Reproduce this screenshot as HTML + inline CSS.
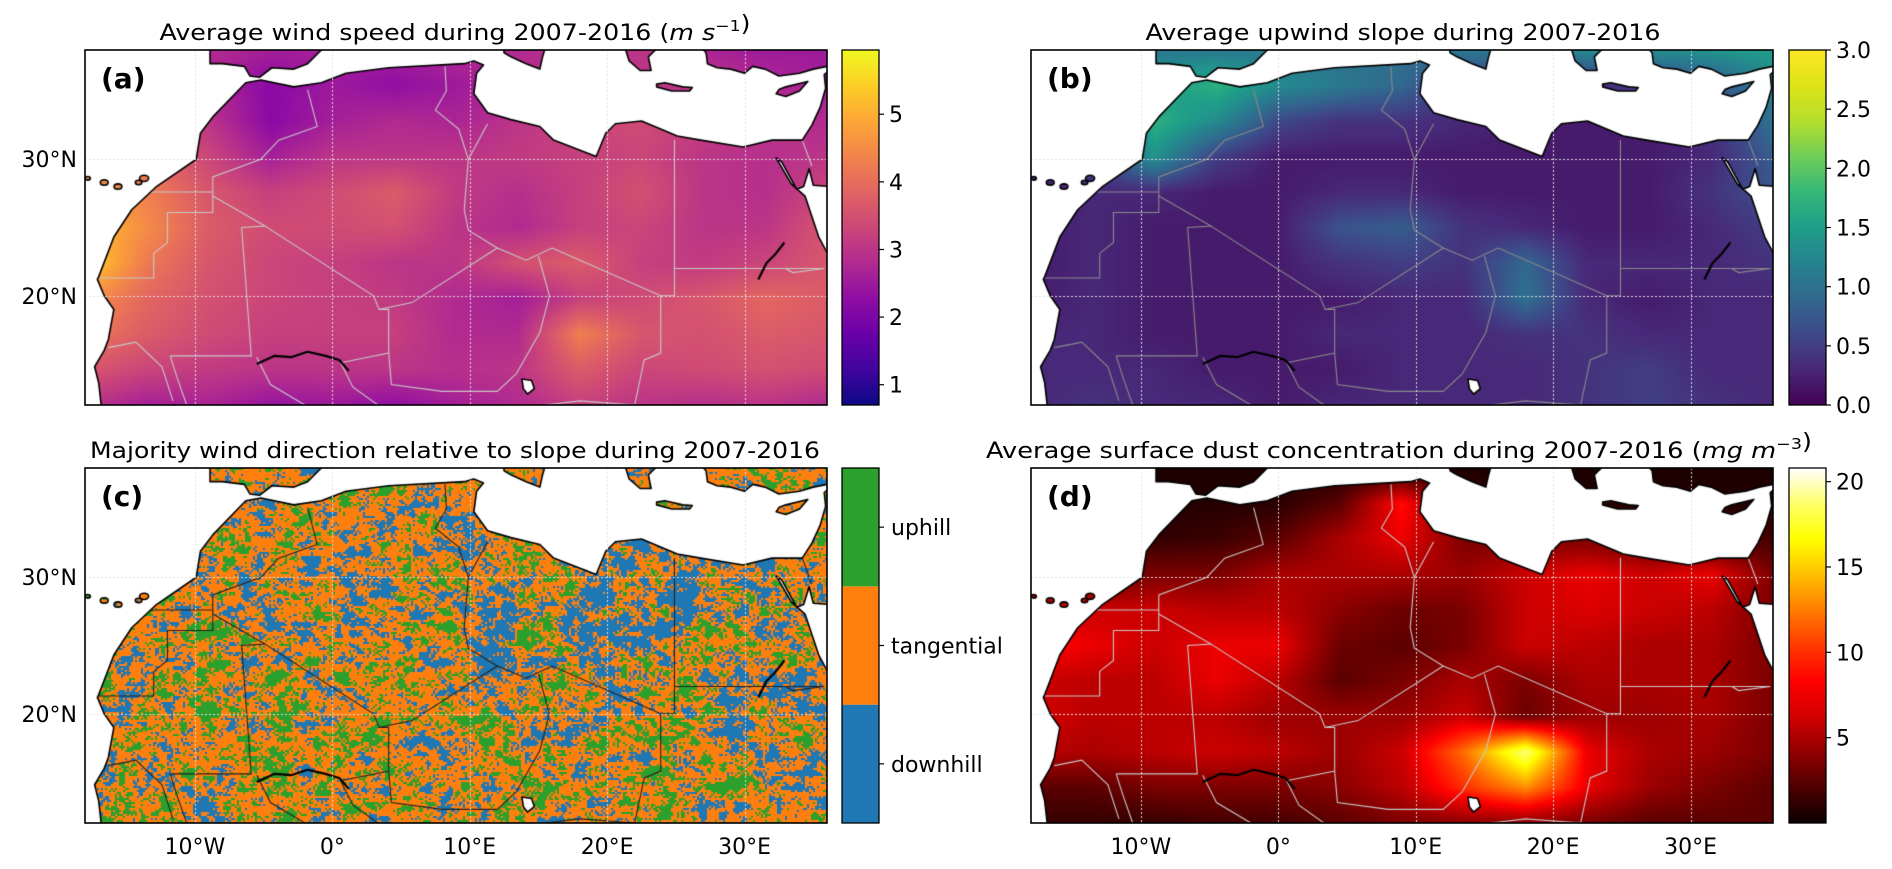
<!DOCTYPE html>
<html><head><meta charset="utf-8">
<style>
html,body{margin:0;padding:0;background:#fff;}
#wrap{position:relative;width:1892px;height:869px;overflow:hidden;font-family:"DejaVu Sans","Liberation Sans",sans-serif;}
canvas{position:absolute;}
svg{position:absolute;left:0;top:0;}
</style></head>
<body>
<div id="wrap">
<canvas id="mapA" width="742" height="355" style="left:85px;top:50px"></canvas>
<canvas id="mapB" width="742" height="355" style="left:1031px;top:50px"></canvas>
<canvas id="mapC" width="742" height="355" style="left:85px;top:468px"></canvas>
<canvas id="mapD" width="742" height="355" style="left:1031px;top:468px"></canvas>
<svg id="ov" width="1892" height="869"></svg>
</div>
<script>
// ---- grid definition (data) ----
const gridLons = [-18,-13.5,-9,-4.5,0,4.5,9,13.5,18,22.5,27,31.5,36];
const gridLats = [38,35.4,32.8,30.2,27.6,25,22.4,19.8,17.2,14.6,12];
const windSpeed = [
[2.8,2.8,2.8,2.6,2.6,2.6,2.8,2.8,3.0,3.0,2.7,2.5,2.5],
[3.0,3.0,2.8,2.2,2.5,2.3,2.5,2.8,3.0,3.0,3.0,2.8,2.6],
[3.2,3.2,3.0,2.2,2.6,2.8,2.7,3.0,3.3,3.4,3.2,3.0,2.8],
[4.2,4.0,3.3,2.6,3.0,3.0,3.0,3.1,3.2,3.3,3.0,2.9,3.0],
[4.6,4.3,3.6,3.2,3.4,3.7,3.1,2.9,3.2,3.5,3.0,2.9,3.3],
[5.3,4.5,3.7,3.4,3.4,3.5,3.0,2.8,3.2,3.3,3.0,3.0,3.6],
[5.5,4.2,3.6,3.3,3.2,3.0,3.0,3.5,3.7,3.2,3.1,3.3,3.6],
[4.6,3.9,3.5,3.3,3.2,3.1,2.8,2.6,3.2,3.4,3.6,3.9,3.7],
[4.2,3.7,3.4,3.2,3.2,3.2,2.8,2.8,4.3,3.6,3.5,3.7,3.6],
[3.6,3.3,3.1,3.0,3.0,3.0,2.9,3.0,3.7,3.3,3.4,3.5,3.4],
[3.0,2.6,2.7,2.4,2.5,2.3,2.6,2.8,3.2,3.0,2.9,3.0,2.8]];
const upwindSlope = [
[1.1,1.1,1.1,1.1,1.1,1.0,1.0,1.1,1.1,1.3,1.3,1.4,1.5],
[0.3,0.3,1.4,1.7,1.3,1.1,0.9,0.4,0.3,0.3,0.5,0.7,1.2],
[0.3,0.3,1.7,1.3,0.6,0.4,0.4,0.3,0.2,0.2,0.2,0.4,1.0],
[0.3,0.5,1.4,0.5,0.2,0.2,0.2,0.2,0.2,0.2,0.2,0.3,0.8],
[0.2,0.3,0.3,0.2,0.2,0.3,0.3,0.2,0.2,0.2,0.2,0.4,0.7],
[0.2,0.3,0.2,0.2,0.2,0.7,0.8,0.4,0.3,0.2,0.2,0.3,0.5],
[0.2,0.3,0.2,0.2,0.2,0.4,0.5,0.4,0.9,0.3,0.3,0.3,0.4],
[0.2,0.3,0.2,0.2,0.2,0.2,0.3,0.3,1.0,0.3,0.2,0.3,0.3],
[0.3,0.3,0.2,0.2,0.2,0.3,0.3,0.3,0.4,0.4,0.3,0.3,0.3],
[0.3,0.3,0.3,0.2,0.2,0.2,0.3,0.3,0.3,0.4,0.5,0.3,0.3],
[0.3,0.4,0.3,0.3,0.2,0.3,0.3,0.3,0.3,0.4,0.5,0.4,0.3]];
const downhillFrac = [
[.18,.18,.18,.18,.18,.18,.18,.18,.18,.18,.18,.18,.18],
[.18,.18,.18,.18,.16,.16,.18,.18,.18,.18,.18,.18,.18],
[.18,.18,.18,.18,.18,.24,.22,.22,.24,.26,.24,.22,.18],
[.18,.18,.18,.18,.22,.30,.28,.34,.40,.46,.40,.36,.24],
[.18,.18,.18,.18,.22,.30,.38,.44,.44,.55,.40,.38,.26],
[.16,.18,.22,.22,.22,.26,.32,.40,.36,.46,.32,.32,.26],
[.16,.18,.22,.26,.22,.20,.20,.24,.26,.30,.26,.26,.26],
[.16,.18,.24,.26,.20,.20,.20,.22,.26,.26,.26,.26,.26],
[.16,.18,.18,.18,.18,.18,.18,.24,.22,.26,.26,.26,.26],
[.16,.18,.18,.18,.18,.18,.18,.24,.24,.22,.24,.24,.24],
[.18,.18,.18,.18,.18,.18,.18,.18,.18,.18,.18,.18,.18]];
const uphillFrac = [
[.18,.18,.18,.18,.18,.18,.18,.18,.18,.18,.18,.18,.18],
[.18,.18,.22,.22,.18,.18,.18,.18,.18,.18,.18,.18,.18],
[.18,.18,.22,.22,.18,.18,.18,.16,.14,.14,.14,.16,.18],
[.22,.22,.22,.20,.18,.16,.16,.14,.12,.10,.12,.14,.18],
[.22,.22,.22,.20,.18,.16,.14,.12,.12,.10,.14,.16,.18],
[.22,.22,.22,.20,.18,.18,.16,.14,.14,.14,.16,.16,.18],
[.22,.22,.22,.20,.20,.18,.18,.18,.18,.18,.18,.18,.18],
[.22,.22,.22,.22,.20,.20,.20,.18,.18,.18,.18,.18,.18],
[.22,.22,.22,.22,.22,.20,.20,.18,.18,.18,.18,.18,.18],
[.22,.22,.22,.22,.22,.20,.20,.18,.20,.20,.18,.18,.18],
[.22,.22,.22,.22,.22,.20,.20,.20,.20,.20,.18,.18,.18]];
const dustConc = [
[0.5,0.5,0.5,0.5,0.5,0.5,0.5,0.5,0.5,0.5,0.5,0.5,0.5],
[0.5,0.5,0.8,0.8,1,2.5,8,1.8,0.8,0.8,0.8,0.8,0.8],
[0.8,0.8,1.2,1.5,2.5,5,7,3.5,3.5,3.5,2.5,1.8,1.8],
[1.8,2.5,3.5,3.5,5,5,5,4.5,6,7,6,7,3.5],
[6,6,6,5.5,5.5,4,3,3.5,6,6.5,6,5.5,3.5],
[8,7,6,7,7,3,2.5,3.5,6,5.5,5,5,3.5],
[6,5.5,5.5,7,5.5,2.5,3.5,5,3.5,5,5,5,3.5],
[6.5,5.5,5.5,5.5,4.5,4.5,4.5,6,3,4.5,4.5,5,3.5],
[5.5,5,5.5,6,5.5,4.5,6,11,18,7,5,4.5,3.5],
[2.5,2.5,3.5,3.5,3.5,4,5.5,9,12,7,4.5,3.5,2.5],
[1.3,1.3,1.3,1.8,1.8,2.5,3.5,4,4,3.5,2.5,2.5,2.5]];
const lonTicks = [-10,0,10,20,30];
const lonTickLabels = ["10°W","0°","10°E","20°E","30°E"];
const latTicks = [30,20];
const latTickLabels = ["30°N","20°N"];
const windTicks = [1,2,3,4,5];
const slopeTicks = [0,0.5,1,1.5,2,2.5,3];
const slopeTickLabels = ["0.0","0.5","1.0","1.5","2.0","2.5","3.0"];
const dustTicks = [5,10,15,20];
const dirCategories = ["downhill","tangential","uphill"];

// ---- geography (coast / borders in lon,lat) ----
const mainland = [[-16.6,10],[-17,13.6],[-17.3,14.8],[-16.6,16],[-16.3,16.8],[-15.9,19],[-16.6,20],[-17.1,21.2],[-17,21.4],[-15.9,24.3],[-14.6,26.3],[-12.8,28],[-9.9,30],[-9.6,31.9],[-8.7,33.1],[-6.3,35.6],[-5.2,35.8],[-2.8,35.3],[-0.8,35.6],[1,36.3],[4.1,36.7],[9.6,37],[10.3,37.2],[11,36.9],[10.5,36.3],[10.3,34.8],[11.3,33.4],[13,32.9],[15.1,32.4],[16.1,31.4],[19.2,30.2],[19.9,31.9],[20.6,32.6],[22.5,32.8],[25.1,31.7],[26.8,31.4],[29.9,30.9],[32,31.4],[34.2,31.4],[34.9,32.5],[35.5,33.8],[35.9,35.2],[35.8,36.2],[36.5,36.8],[37,36.8],[37,10]];
const iberia = [[-9.5,39],[-8.9,38],[-8.9,37],[-8,37],[-6.4,36.8],[-6,36.1],[-5.3,36],[-4.4,36.7],[-2.8,36.6],[-1.8,37],[-0.8,38],[-0.5,39]];
const sicily = [[12.4,38.5],[12.5,37.8],[13,37.5],[14.1,37],[15.1,36.6],[15.3,37.5],[15.6,38.5]];
const greece = [[21.2,38.5],[21.6,37.2],[22.4,36.5],[23.2,36.5],[23,37.5],[24,38.5]];
const turkey = [[26.6,38.5],[27.2,37.8],[27.3,37],[28,36.7],[29,36.6],[30,36.3],[30.6,36.8],[31.5,36.6],[32.5,36.1],[34,36.3],[35,36.6],[36,36.8],[37,36.8],[37,38.5]];
const crete = [[23.6,35.5],[24.2,35.6],[25.5,35.3],[26.2,35.25],[26,35],[24.7,35],[23.6,35.3]];
const cyprus = [[32.3,34.8],[32.5,35.1],[33,35.3],[34.6,35.7],[34,35],[33,34.6]];
const canaries = [[-13.7,28.6,0.35],[-14.1,28.3,0.25],[-15.6,28,0.3],[-16.6,28.3,0.3],[-17.8,28.6,0.2]];
const redSea = [[32.3,30.1],[33.4,28.2],[34.4,27.3],[35.4,24.3],[36.2,22.8],[36.2,28],[35,28.1],[34.7,29.3],[34.3,28],[33.8,27.8],[32.7,29.8]];
const lakeChad = [[13.8,13.9],[14.5,13.8],[14.7,13.2],[14.2,12.8],[13.9,13.2]];
const borders = [
[[-1.8,35.1],[-1.1,32.4],[-3.9,31.4],[-5.2,30],[-8.7,28.7],[-8.7,27.6],[-13.2,27.6]],
[[-8.7,27.6],[-8.7,26.1],[-12,26.1],[-12,23.9],[-13,23.1],[-13,21.3],[-17,21.3]],
[[-8.7,27.3],[-4.9,25.1],[-6.6,25.0],[-5.9,15.6],[-11.8,15.6]],
[[-4.9,25.1],[3,20],[3.4,19],[5.8,19.5],[12,23.5]],
[[3.4,19],[4.1,19],[4.1,15.8],[0.6,15.1]],
[[8.2,36.8],[8.3,35],[7.5,33.6],[9.2,32.2],[9.9,30],[9.6,26.3],[9.9,24.8],[12,23.5],[14.1,22.6],[16,23.5],[23.9,20],[24.9,20],[24.9,22],[24.9,31.4]],
[[11.3,32.6],[9.9,30]],
[[24.9,22],[35.8,22]],
[[15,22.9],[15.8,20],[15.1,17.3],[13.4,14.3]],
[[23.9,20],[23.9,15.8],[22.7,15.3],[22,12]],
[[-16.3,16.2],[-14.3,16.6],[-12.4,14.8],[-11.6,12.3]],
[[-11.8,15.6],[-11.3,14],[-10.6,12]],
[[0.6,15.1],[1.5,13.3],[3.6,11.8]],
[[-5.5,15.5],[-4.5,13.5],[-2,12]],
[[4.1,15.8],[4.3,13.5],[8,13],[12,13],[13.4,14.3]],
[[22,12],[18,12.3],[15.5,12]],
[[34.2,31.4],[34.9,29.5]],
[[35.8,22],[33.5,21.7],[33,22]]];
const rivers = [[[-5.5,15],[-4.2,15.6],[-3,15.5],[-1.8,15.9],[-0.5,15.6],[0.5,15.3],[1.2,14.5]],[[31,21.2],[31.6,22.4],[32.2,23],[32.9,23.9]]];

// ---- layout ----
const W=742,H=355;
const panels = {A:{x:85,y:50},B:{x:1031,y:50},C:{x:85,y:468},D:{x:1031,y:468}};
function px(lon){return (lon+18)*W/54;}
function py(lat){return (38-lat)*H/26;}

function sample(g,lon,lat){
  let fi=(lon-gridLons[0])/4.5, fj=(gridLats[0]-lat)/2.6;
  fi=Math.max(0,Math.min(12,fi)); fj=Math.max(0,Math.min(10,fj));
  const i=Math.min(11,Math.floor(fi)), j=Math.min(9,Math.floor(fj));
  const u=fi-i,v=fj-j;
  return g[j][i]*(1-u)*(1-v)+g[j][i+1]*u*(1-v)+g[j+1][i]*(1-u)*v+g[j+1][i+1]*u*v;
}
function hex(h){return [parseInt(h.slice(1,3),16),parseInt(h.slice(3,5),16),parseInt(h.slice(5,7),16)];}
const plasma=["#0d0887","#41049d","#6a00a8","#8f0da4","#b12a90","#cc4778","#e16462","#f2844b","#fca636","#fcce25","#f0f921"].map(hex);
const viridis=["#440154","#482878","#3e4989","#31688e","#26828e","#1f9e89","#35b779","#6ece58","#b5de2b","#dde318","#fde725"].map(hex);
function cmapEven(stops,t){t=Math.max(0,Math.min(1,t));const f=t*(stops.length-1);const i=Math.min(stops.length-2,Math.floor(f));const u=f-i;return stops[i].map((c,k)=>Math.round(c+(stops[i+1][k]-c)*u));}
function hot(t){t=Math.max(0,Math.min(1,t));const r=Math.min(1,0.0416+t/0.365*0.9584),g=Math.max(0,Math.min(1,(t-0.365)/0.381)),b=Math.max(0,(t-0.746)/0.254);return [Math.round(r*255),Math.round(g*255),Math.round(b*255)];}

// deterministic rank-normalised texture for the categorical map (rendering only)
function h2(i,j){let n=Math.imul(i|0,374761393)+Math.imul(j|0,668265263)|0;n=Math.imul(n^(n>>>13),1274126177);n=n^(n>>>16);return (n>>>0)/4294967296;}
function vnoise(x,y){const i=Math.floor(x),j=Math.floor(y),u=x-i,v=y-j;const s=u*u*(3-2*u),t=v*v*(3-2*v);
  return h2(i,j)*(1-s)*(1-t)+h2(i+1,j)*s*(1-t)+h2(i,j+1)*(1-s)*t+h2(i+1,j+1)*s*t;}
const TW=Math.ceil(W/2),TH=Math.ceil(H/2);
const texture=(function(){const n=TW*TH,vals=new Float32Array(n),idx=[];
  for(let j=0;j<TH;j++)for(let i=0;i<TW;i++){vals[j*TW+i]=0.4*vnoise(i/3.5,j/2.5)+0.4*vnoise(i/10+50,j/8+50)+0.2*h2(i+999,j+77);idx.push(j*TW+i);}
  idx.sort((a,b)=>vals[a]-vals[b]);const r=new Float32Array(n);idx.forEach((k,q)=>{r[k]=(q+0.5)/n;});return r;})();
const catCol={down:hex("#1f77b4"),tan:hex("#ff7f0e"),up:hex("#2ca02c")};

function poly(ctx,pts){ctx.moveTo(px(pts[0][0]),py(pts[0][1]));for(let k=1;k<pts.length;k++)ctx.lineTo(px(pts[k][0]),py(pts[k][1]));ctx.closePath();}
function line(ctx,pts){ctx.moveTo(px(pts[0][0]),py(pts[0][1]));for(let k=1;k<pts.length;k++)ctx.lineTo(px(pts[k][0]),py(pts[k][1]));}

function drawMap(id,colorFn,borderColor,step){
  const c=document.getElementById(id),ctx=c.getContext('2d');
  const img=ctx.createImageData(W,H);
  for(let y=0;y<H;y+=step)for(let x=0;x<W;x+=step){
    const lon=-18+(x+step/2)*54/W, lat=38-(y+step/2)*26/H;
    const col=colorFn(lon,lat,x/step|0,y/step|0);
    for(let dy=0;dy<step&&y+dy<H;dy++)for(let dx=0;dx<step&&x+dx<W;dx++){
      const o=((y+dy)*W+x+dx)*4;img.data[o]=col[0];img.data[o+1]=col[1];img.data[o+2]=col[2];img.data[o+3]=255;}
  }
  ctx.putImageData(img,0,0);
  const lands=[mainland,iberia,sicily,greece,turkey,crete,cyprus];
  ctx.beginPath();ctx.rect(-5,-5,W+10,H+10);
  lands.forEach(p=>poly(ctx,p));
  canaries.forEach(cn=>{ctx.moveTo(px(cn[0])+cn[2]*13,py(cn[1]));ctx.ellipse(px(cn[0]),py(cn[1]),cn[2]*13,cn[2]*9,0,0,Math.PI*2);});
  ctx.fillStyle="#fff";ctx.fill('evenodd');
  ctx.beginPath();poly(ctx,redSea);poly(ctx,lakeChad);ctx.fill();
  ctx.strokeStyle=borderColor;ctx.lineWidth=1.1;
  borders.forEach(b=>{ctx.beginPath();line(ctx,b);ctx.stroke();});
  ctx.strokeStyle="#000";ctx.lineWidth=1.6;ctx.lineJoin="round";
  ctx.beginPath();lands.forEach(p=>poly(ctx,p));poly(ctx,redSea);poly(ctx,lakeChad);ctx.stroke();
  canaries.forEach(cn=>{ctx.beginPath();ctx.ellipse(px(cn[0]),py(cn[1]),cn[2]*13,cn[2]*9,0,0,Math.PI*2);ctx.stroke();});
  ctx.lineWidth=2.2;rivers.forEach(r=>{ctx.beginPath();line(ctx,r);ctx.stroke();});
  ctx.setLineDash([2,2]);ctx.strokeStyle="rgba(225,225,225,0.95)";ctx.lineWidth=1;
  lonTicks.forEach(l=>{ctx.beginPath();ctx.moveTo(Math.round(px(l))+0.5,0);ctx.lineTo(Math.round(px(l))+0.5,H);ctx.stroke();});
  latTicks.forEach(l=>{ctx.beginPath();ctx.moveTo(0,Math.round(py(l))+0.5);ctx.lineTo(W,Math.round(py(l))+0.5);ctx.stroke();});
  ctx.setLineDash([]);
}
drawMap('mapA',(lo,la)=>cmapEven(plasma,(sample(windSpeed,lo,la)-0.7)/5.25),"#c8c8c8",2);
drawMap('mapB',(lo,la)=>cmapEven(viridis,sample(upwindSlope,lo,la)/3),"#8a8a8a",2);
drawMap('mapC',(lo,la,i,j)=>{const fd=sample(downhillFrac,lo,la),fu=sample(uphillFrac,lo,la);const t=texture[Math.min(TH-1,j)*TW+Math.min(TW-1,i)];return t<fd?catCol.down:(t>1-fu?catCol.up:catCol.tan);},"#222",2);
drawMap('mapD',(lo,la)=>hot(sample(dustConc,lo,la)/20.8),"#c8c8c8",2);

// ---- SVG annotations ----
const NS="http://www.w3.org/2000/svg",svg=document.getElementById('ov');
function el(tag,attrs,parent){const e=document.createElementNS(NS,tag);for(const k in attrs)e.setAttribute(k,attrs[k]);(parent||svg).appendChild(e);return e;}
function txt(s,attrs){const e=el('text',Object.assign({'font-family':'DejaVu Sans, Liberation Sans, sans-serif','font-size':22,fill:'#000'},attrs));e.textContent=s;return e;}
const defs=el('defs',{});
function grad(id,colors){const g=el('linearGradient',{id:id,x1:0,y1:1,x2:0,y2:0},defs);colors.forEach((c,k)=>el('stop',{offset:k/(colors.length-1),'stop-color':c},g));}
grad('gPlasma',plasma.map(c=>`rgb(${c})`));
grad('gViridis',viridis.map(c=>`rgb(${c})`));
grad('gHot',[0,.1,.2,.3,.365,.45,.55,.65,.746,.85,1].map(t=>`rgb(${hot(t)})`));

const titles=[
 ['A',"title-wind-speed",455,591,[["Average wind speed during 2007-2016 (",""],["m s","italic"],["−1","sup"],[")",""]]],
 ['B',"title-upwind-slope",1403,515,[["Average upwind slope during 2007-2016",""]]],
 ['C',"title-wind-direction",455,730,[["Majority wind direction relative to slope during 2007-2016",""]]],
 ['D',"title-dust-concentration",1399,826,[["Average surface dust concentration during 2007-2016 (",""],["mg m","italic"],["−3","sup"],[")",""]]]];
titles.forEach(t=>{
  const p=panels[t[0]];
  const e=el('text',{x:t[2],y:p.y-10,'text-anchor':'middle','font-family':'DejaVu Sans, Liberation Sans, sans-serif','font-size':22,textLength:t[3],lengthAdjust:'spacingAndGlyphs'});
  
  
  t[4].forEach(s=>{const ts=el('tspan',{},e);if(s[1]==='italic')ts.setAttribute('font-style','italic');if(s[1]==='sup'){ts.setAttribute('font-size',15);ts.setAttribute('dy',-9);}ts.textContent=s[0];if(s[1]==='sup'){const r=el('tspan',{dy:9},e);r.textContent='';}});
});
const letters={A:"(a)",B:"(b)",C:"(c)",D:"(d)"};
Object.keys(panels).forEach(k=>{
  const p=panels[k];
  const f=el('rect',{x:p.x,y:p.y,width:W,height:H,fill:'none',stroke:'#000','stroke-width':1.6});
  
  
  const l=txt(letters[k],{x:p.x+16,y:p.y+38,'font-weight':'bold','font-size':28});
  
  
});
['A','C'].forEach(k=>{const p=panels[k];latTicks.forEach((lt,i)=>{
  const t=txt(latTickLabels[i],{x:p.x-8,y:p.y+py(lt)+8,'text-anchor':'end'});
  
  });});
['C','D'].forEach(k=>{const p=panels[k];lonTicks.forEach((ln,i)=>{
  const t=txt(lonTickLabels[i],{x:p.x+px(ln),y:p.y+H+31,'text-anchor':'middle'});
  
  });});

function colorbar(name,x,y,fillId,vmin,vmax,ticks,labels){
  const r=el('rect',{x:x,y:y,width:37,height:H,fill:`url(#${fillId})`,stroke:'#000','stroke-width':1.3});
  
  
  ticks.forEach((v,i)=>{const ty=y+H-(v-vmin)/(vmax-vmin)*H;
    el('line',{x1:x+37,x2:x+42,y1:ty,y2:ty,stroke:'#000','stroke-width':1.2});
    const t=txt(labels[i],{x:x+47,y:ty+8});
    
    });
}
colorbar('wind-speed-colorbar',842,50,'gPlasma',0.7,5.95,windTicks,windTicks.map(String));
colorbar('slope-colorbar',1789,50,'gViridis',0,3,slopeTicks,slopeTickLabels);
colorbar('dust-colorbar',1789,468,'gHot',0,20.8,dustTicks,dustTicks.map(String));
const cbx=842,cby=468,seg=H/3,catColors=["#1f77b4","#ff7f0e","#2ca02c"];
dirCategories.forEach((c,i)=>{
  const ry=cby+H-(i+1)*seg;
  const r=el('rect',{x:cbx,y:ry,width:37,height:seg,fill:catColors[i]});
  
  
  el('line',{x1:cbx+37,x2:cbx+42,y1:ry+seg/2,y2:ry+seg/2,stroke:'#000','stroke-width':1.2});
  const t=txt(c,{x:cbx+49,y:ry+seg/2+8});
  
  
});
el('rect',{x:cbx,y:cby,width:37,height:H,fill:'none',stroke:'#000','stroke-width':1.3});
</script>
</body></html>
